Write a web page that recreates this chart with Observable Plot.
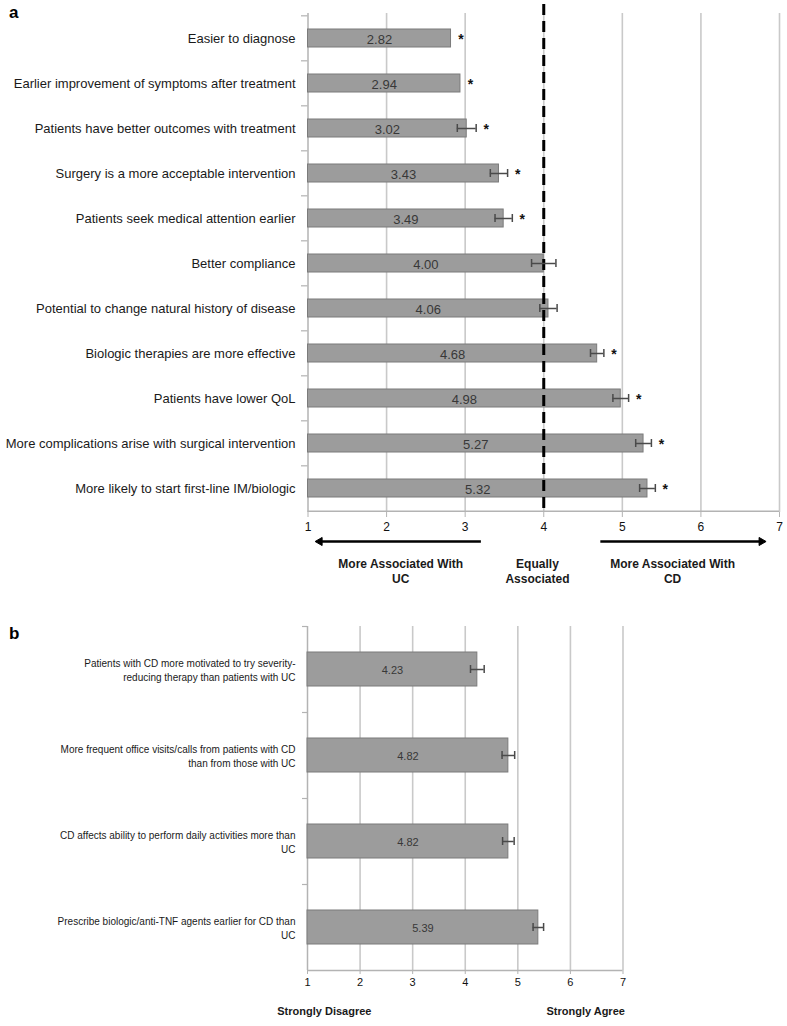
<!DOCTYPE html>
<html>
<head>
<meta charset="utf-8">
<script src="https://cdn.jsdelivr.net/npm/d3@7"></script>
<script src="https://cdn.jsdelivr.net/npm/@observablehq/plot@0.6"></script>
<style>
  html, body { margin: 0; padding: 0; background: #fff; }
  #wrap { position: relative; width: 787px; height: 1026px; font-family: "Liberation Sans", Arial, sans-serif; }
  #wrap svg { display: block; overflow: visible; }
  .panel-label { position: absolute; font-weight: bold; font-size: 17px; line-height: 1; color: #000; }
  g[aria-label="annot"] { filter: drop-shadow(1px 1.5px 1px rgba(0,0,0,0.35)); }
</style>
</head>
<body>
<div id="wrap">
  <div class="panel-label" style="left:9px; top:4px;">a</div>
  <div class="panel-label" style="left:9px; top:625px;">b</div>
  <div id="pa"></div>
  <div id="pb"></div>
</div>
<script>
// ---------- Panel a data ----------
const catsA = [
  "Easier to diagnose",
  "Earlier improvement of symptoms after treatment",
  "Patients have better outcomes with treatment",
  "Surgery is a more acceptable intervention",
  "Patients seek medical attention earlier",
  "Better compliance",
  "Potential to change natural history of disease",
  "Biologic therapies are more effective",
  "Patients have lower QoL",
  "More complications arise with surgical intervention",
  "More likely to start first-line IM/biologic"
];
const valsA = [2.82, 2.94, 3.02, 3.43, 3.49, 4.00, 4.06, 4.68, 4.98, 5.27, 5.32];
const errA  = [0, 0, 0.12, 0.11, 0.11, 0.155, 0.11, 0.085, 0.10, 0.10, 0.10];
const sigA  = [true, true, true, true, true, false, false, true, true, true, true];
const xTicks = [1, 2, 3, 4, 5, 6, 7];
const neutralValue = 4;
const annotA = ["More Associated With\nUC", "Equally\nAssociated", "More Associated With\nCD"];

// ---------- Panel b data ----------
const catsB = [
  "Patients with CD more motivated to try severity-\nreducing therapy than patients with UC",
  "More frequent office visits/calls from patients with CD\nthan from those with UC",
  "CD affects ability to perform daily activities more than\nUC",
  "Prescribe biologic/anti-TNF agents earlier for CD than\nUC"
];
const valsB = [4.23, 4.82, 4.82, 5.39];
const errB  = [0.13, 0.12, 0.11, 0.10];
const annotB = ["Strongly Disagree", "Strongly Agree"];

const font = "'Liberation Sans', Arial, Helvetica, sans-serif";
const barFill = "#9c9c9c", barStroke = "#7b7b7b";
const gridColor = "#c9c9c9", axisColor = "#b3b3b3", errColor = "#4a4a4a";

// ---------- Panel a ----------
const dataA = catsA.map((c, i) => ({cat: c, v: valsA[i], e: errA[i], sig: sigA[i]}));
const errDataA = dataA.filter(d => d.e > 0);
const HA = 600, mtA = 13, mbA = 88;
const stepA = (HA - mtA - mbA) / catsA.length;
const lastA = catsA[catsA.length - 1];
const arrowDy = 53;
const arrowsA = [
  {x1: 3.2, x2: 1.15, rot: -90},
  {x1: 4.72, x2: 6.77, rot: 90}
];

const plotA = Plot.plot({
  width: 787, height: HA,
  marginTop: mtA, marginBottom: mbA, marginLeft: 307.5, marginRight: 8,
  style: {fontFamily: font, background: "white", overflow: "visible"},
  x: {domain: [1, 7]},
  y: {domain: catsA, paddingInner: 0.6, paddingOuter: 0.3},
  marks: [
    Plot.ruleX(xTicks.filter(t => t > 1), {stroke: gridColor, strokeWidth: 1.6}),
    Plot.ruleX([1], {stroke: axisColor, strokeWidth: 1.5}),
    Plot.ruleY([lastA], {y: d => d, x1: 1, x2: 7, dy: stepA / 2, stroke: axisColor, strokeWidth: 1.5}),
    Plot.ruleY(catsA, {y: d => d, x1: 1, x2: 1, insetLeft: -6.5, dy: -stepA / 2, stroke: axisColor, strokeWidth: 1.2}),
    Plot.axisX(xTicks, {tickSize: 5, tickPadding: 5, stroke: axisColor, fill: "#111", fontSize: 12, label: null}),
    Plot.axisY({tickSize: 0, tickPadding: 12.5, fontSize: 13, fill: "#1a1a1a", label: null}),
    Plot.barX(dataA, {x1: 1, x2: "v", y: "cat", fill: barFill, stroke: barStroke, strokeWidth: 1}),
    Plot.ruleX([neutralValue], {stroke: "#000", strokeWidth: 3, strokeDasharray: "11,6", insetTop: -9}),
    Plot.ruleY(errDataA, {y: "cat", x1: d => d.v - d.e, x2: d => d.v + d.e, stroke: errColor, strokeWidth: 1.5}),
    Plot.tickX(errDataA, {x: d => d.v - d.e, y: "cat", insetTop: 5, insetBottom: 5, stroke: errColor, strokeWidth: 1.5}),
    Plot.tickX(errDataA, {x: d => d.v + d.e, y: "cat", insetTop: 5, insetBottom: 5, stroke: errColor, strokeWidth: 1.5}),
    Plot.text(dataA, {x: d => (1 + d.v) / 2, y: "cat", text: d => d.v.toFixed(2), fontSize: 13, fill: "#383838", dy: 1}),
    Plot.text(dataA.filter(d => d.sig), {x: d => d.v + d.e, y: "cat", text: () => "*", dx: 10, dy: 1.5, fontSize: 14, fontWeight: "bold", fill: "#111"}),
    Plot.link(arrowsA, {x1: "x1", x2: "x2", y1: () => lastA, y2: () => lastA, dy: arrowDy, stroke: "#000", strokeWidth: 2.5}),
    Plot.dot(arrowsA, {x: "x2", y: () => lastA, dy: arrowDy, symbol: "triangle", r: 3, rotate: d => d.rot, fill: "#000", stroke: "#000", strokeWidth: 1}),
    Plot.text(annotA, {x: [2.18, 3.92, 5.64], text: d => d, frameAnchor: "bottom", lineAnchor: "top", dy: 44, fontSize: 12, fontWeight: "bold", lineHeight: 1.3, fill: "#1a1a1a", ariaLabel: "annot"})
  ]
});
document.getElementById("pa").appendChild(plotA);

// ---------- Panel b ----------
const dataB = catsB.map((c, i) => ({cat: c, v: valsB[i], e: errB[i]}));
const HB = 426, mtB = 26, mbB = 56;
const stepB = (HB - mtB - mbB) / catsB.length;
const lastB = catsB[catsB.length - 1];

const plotB = Plot.plot({
  width: 787, height: HB,
  marginTop: mtB, marginBottom: mbB, marginLeft: 307, marginRight: 164.5,
  style: {fontFamily: font, background: "white", overflow: "visible"},
  x: {domain: [1, 7]},
  y: {domain: catsB, paddingInner: 0.6, paddingOuter: 0.3},
  marks: [
    Plot.ruleX(xTicks.filter(t => t > 1), {stroke: gridColor, strokeWidth: 1.6}),
    Plot.ruleX([1], {stroke: axisColor, strokeWidth: 1.5}),
    Plot.ruleY([lastB], {y: d => d, x1: 1, x2: 7, dy: stepB / 2, stroke: axisColor, strokeWidth: 1.5}),
    Plot.ruleY(catsB, {y: d => d, x1: 1, x2: 1, insetLeft: -5, dy: -stepB / 2, stroke: axisColor, strokeWidth: 1.2}),
    Plot.axisX(xTicks, {tickSize: 4, tickPadding: 4, stroke: axisColor, fill: "#111", fontSize: 11, label: null}),
    Plot.axisY({tickSize: 0, tickPadding: 12, fontSize: 10, lineHeight: 1.4, fill: "#1a1a1a", label: null}),
    Plot.barX(dataB, {x1: 1, x2: "v", y: "cat", fill: barFill, stroke: barStroke, strokeWidth: 1}),
    Plot.ruleY(dataB, {y: "cat", x1: d => d.v - d.e, x2: d => d.v + d.e, stroke: errColor, strokeWidth: 1.5}),
    Plot.tickX(dataB, {x: d => d.v - d.e, y: "cat", insetTop: 13, insetBottom: 13, stroke: errColor, strokeWidth: 1.5}),
    Plot.tickX(dataB, {x: d => d.v + d.e, y: "cat", insetTop: 13, insetBottom: 13, stroke: errColor, strokeWidth: 1.5}),
    Plot.text(dataB, {x: d => (1 + d.v) / 2, y: "cat", text: d => d.v.toFixed(2), fontSize: 11, fill: "#383838", dy: 1}),
    Plot.text(annotB, {x: [1.32, 6.29], text: d => d, frameAnchor: "bottom", lineAnchor: "top", dy: 37, fontSize: 11, fontWeight: "bold", fill: "#1a1a1a", ariaLabel: "annot"})
  ]
});
document.getElementById("pb").appendChild(plotB);
</script>
</body>
</html>
